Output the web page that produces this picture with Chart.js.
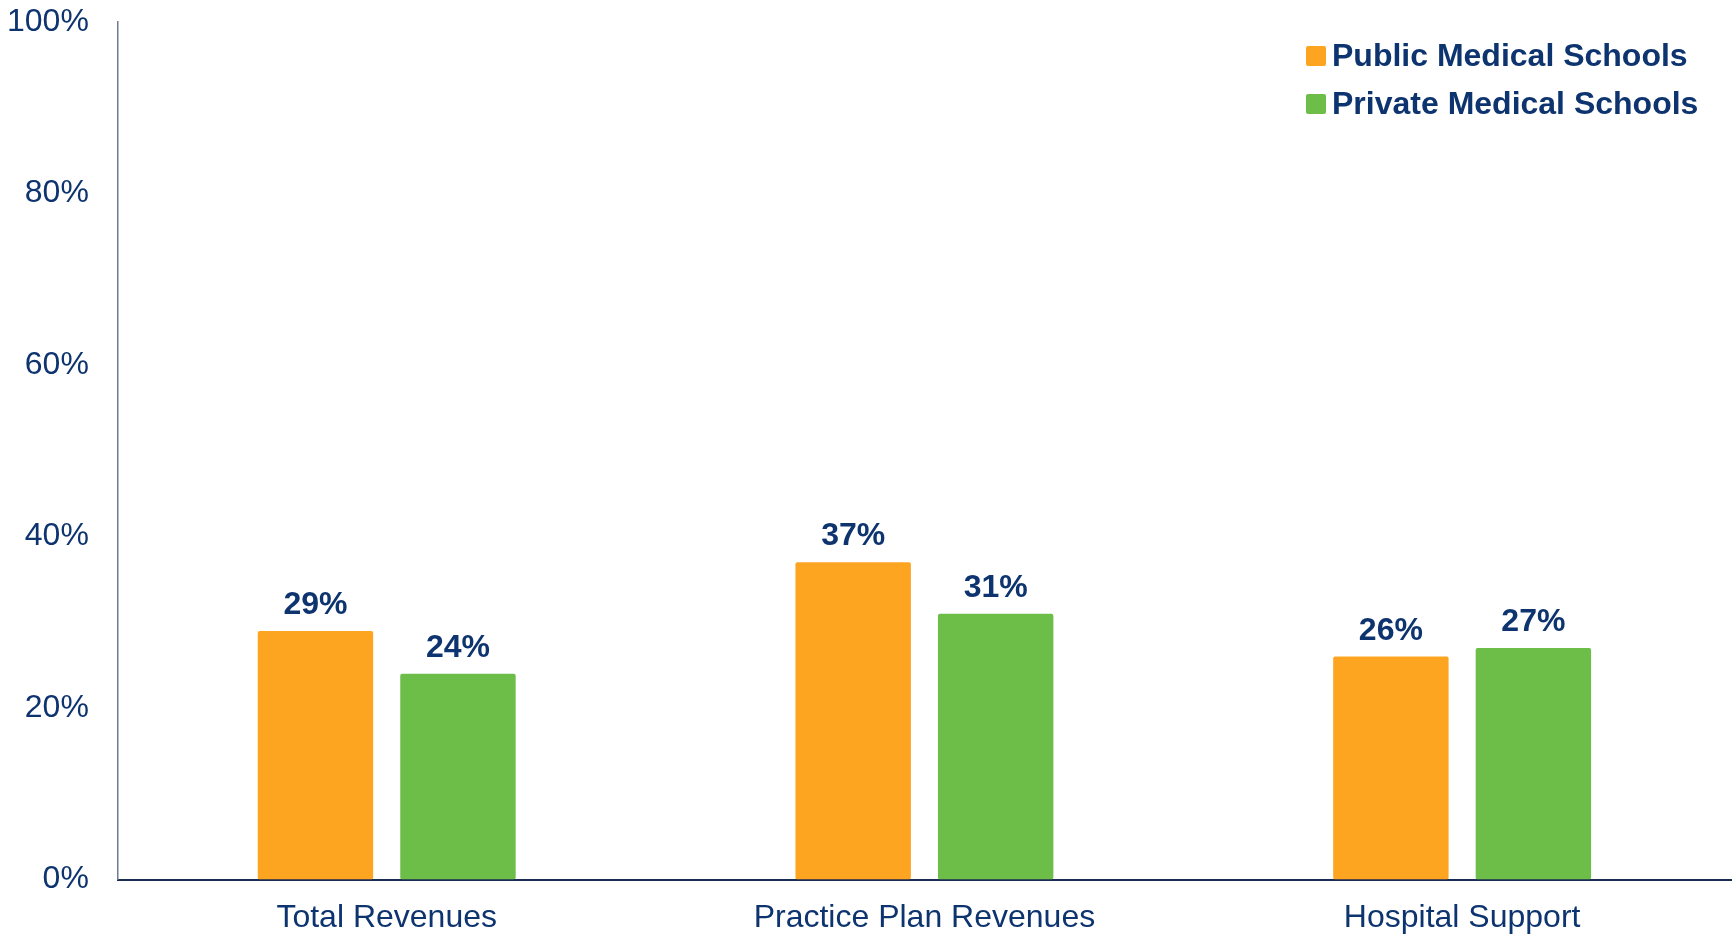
<!DOCTYPE html>
<html>
<head>
<meta charset="utf-8">
<script src="https://cdn.jsdelivr.net/npm/chart.js@4"></script>
<style>
  html, body { margin: 0; padding: 0; background: #fff; }
  #wrap { width: 1734px; height: 936px; }
</style>
</head>
<body>
<div id="wrap"><canvas id="chart"></canvas></div>
<script>
const categories = ["Total Revenues", "Practice Plan Revenues", "Hospital Support"];
const publicSchools = [29, 37, 26];
const privateSchools = [24, 31, 27];
const seriesNames = ["Public Medical Schools", "Private Medical Schools"];
const yTicks = [0, 20, 40, 60, 80, 100];

const navy = "#0E3470";
const fontFamily = "'Liberation Sans', Arial, sans-serif";

// value labels above each bar
const barLabels = {
  id: "barLabels",
  afterDatasetsDraw(chart) {
    const ctx = chart.ctx;
    ctx.save();
    ctx.fillStyle = navy;
    ctx.font = "bold 32px " + fontFamily;
    ctx.textAlign = "center";
    ctx.textBaseline = "alphabetic";
    chart.data.datasets.forEach((ds, i) => {
      chart.getDatasetMeta(i).data.forEach((bar, j) => {
        ctx.fillText(ds.data[j] + "%", bar.x, bar.y - 17);
      });
    });
    ctx.restore();
  },
};

// legend stacked in the top right corner of the plot
const cornerLegend = {
  id: "cornerLegend",
  afterDraw(chart) {
    const ctx = chart.ctx;
    const left = chart.chartArea.right - 425;
    ctx.save();
    ctx.font = "bold 32px " + fontFamily;
    ctx.textBaseline = "middle";
    ctx.textAlign = "left";
    chart.data.datasets.forEach((ds, i) => {
      const y = 56 + i * 48;
      ctx.fillStyle = ds.backgroundColor;
      ctx.beginPath();
      ctx.roundRect(left, y - 10, 20, 20, 2);
      ctx.fill();
      ctx.fillStyle = navy;
      ctx.fillText(ds.label, left + 26, y + 1);
    });
    ctx.restore();
  },
};

new Chart(document.getElementById("chart"), {
  type: "bar",
  data: {
    labels: categories,
    datasets: [
      {
        label: seriesNames[0],
        data: publicSchools,
        backgroundColor: "#FDA521",
        borderRadius: 2,
        borderSkipped: false,
      },
      {
        label: seriesNames[1],
        data: privateSchools,
        backgroundColor: "#6DBE48",
        borderRadius: 2,
        borderSkipped: false,
      },
    ],
  },
  options: {
    responsive: true,
    maintainAspectRatio: false,
    animation: false,
    categoryPercentage: 0.53,
    barPercentage: 0.81,
    layout: { padding: { left: 7, right: 3, top: 22, bottom: -1 } },
    plugins: {
      legend: { display: false },
      tooltip: { enabled: false },
    },
    scales: {
      x: {
        grid: { display: false, drawTicks: false },
        border: { color: "#1B2B52", width: 2 },
        ticks: {
          color: navy,
          font: { family: fontFamily, size: 32 },
          padding: 19,
        },
        afterFit(axis) {
          // labels sit inside their categories, no side overflow
          axis.paddingLeft = 0;
          axis.paddingRight = 0;
          axis.height -= axis.options.ticks.padding; // padding is counted twice
        },
      },
      y: {
        min: 0,
        max: 100,
        afterBuildTicks(axis) {
          axis.ticks = yTicks.map((v) => ({ value: v }));
        },
        afterFit(axis) {
          axis.paddingTop = 0;
          axis.paddingBottom = 0;
          axis.width -= axis.options.ticks.padding;
        },
        grid: { display: false, drawTicks: false },
        border: { color: "#6E7B8E", width: 1.5 },
        ticks: {
          color: navy,
          font: { family: fontFamily, size: 32 },
          padding: 29,
          callback: (v) => v + "%",
        },
      },
    },
  },
  plugins: [barLabels, cornerLegend],
});
</script>
</body>
</html>
